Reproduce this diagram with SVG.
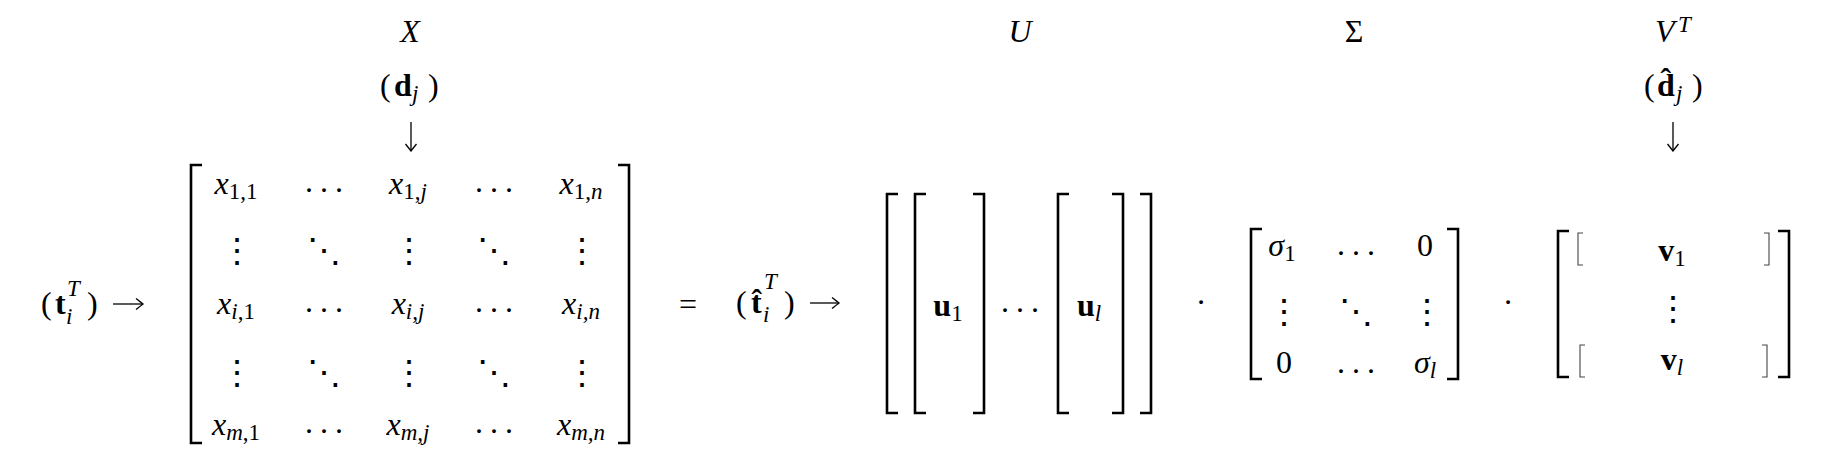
<svg xmlns="http://www.w3.org/2000/svg" width="1838" height="464" viewBox="0 0 1838 464">
<defs>
<style>
text{font-family:"Liberation Serif","Times New Roman",serif;font-size:32px;fill:#000}
.i{font-style:italic}
.b{font-weight:bold}
.s{font-size:23px}
.c{text-anchor:middle}
.h{letter-spacing:7px}
.v{font-family:"DejaVu Serif",serif;font-size:34px;text-anchor:middle;dominant-baseline:central}
.br{fill:none;stroke:#000;stroke-width:2.6;stroke-linejoin:miter;stroke-linecap:butt}
.sb{fill:none;stroke:#444;stroke-width:1.1}
.ar{fill:none;stroke:#000;stroke-width:1.3}
</style>
<marker id="ah" viewBox="-9 -7 10 14" refX="0" refY="0" markerWidth="10" markerHeight="14" markerUnits="userSpaceOnUse" orient="auto" overflow="visible">
<path d="M-7,-5.5 Q-2,-1.5 0,0 Q-2,1.5 -7,5.5" fill="none" stroke="#000" stroke-width="1.3"/>
</marker>
</defs>
<rect width="1838" height="464" fill="#fff"/>

<g id="row-label-t">
<text y="314"><tspan x="41">(</tspan><tspan x="55" class="b">t</tspan><tspan x="67" y="296" class="s i">T</tspan><tspan x="66" y="324" class="s i">i</tspan><tspan x="87" y="314">)</tspan></text>
</g>

<g id="col-label-d">
<text y="96"><tspan x="380">(</tspan><tspan x="394" class="b">d</tspan><tspan x="412" y="101" class="s i">j</tspan><tspan x="428" y="96">)</tspan></text>
</g>

<g id="matrix-X">
<text class="i c" x="410" y="42">X</text>
<path class="br" d="M202,165 H191 V443 H202"/>
<path class="br" d="M618,165 H629 V443 H618"/>
<text class="c" x="236" y="194"><tspan class="i">x</tspan><tspan class="s" dy="5">1,1</tspan></text>
<text class="c" x="408" y="194"><tspan class="i">x</tspan><tspan class="s" dy="5">1,<tspan class="i">j</tspan></tspan></text>
<text class="c" x="581" y="194"><tspan class="i">x</tspan><tspan class="s" dy="5">1,<tspan class="i">n</tspan></tspan></text>
<text class="c" x="236" y="314"><tspan class="i">x</tspan><tspan class="s" dy="5"><tspan class="i">i</tspan>,1</tspan></text>
<text class="c" x="408" y="314"><tspan class="i">x</tspan><tspan class="s i" dy="5">i,j</tspan></text>
<text class="c" x="581" y="314"><tspan class="i">x</tspan><tspan class="s i" dy="5">i,n</tspan></text>
<text class="c" x="236" y="435"><tspan class="i">x</tspan><tspan class="s" dy="5"><tspan class="i">m</tspan>,1</tspan></text>
<text class="c" x="408" y="435"><tspan class="i">x</tspan><tspan class="s i" dy="5">m,j</tspan></text>
<text class="c" x="581" y="435"><tspan class="i">x</tspan><tspan class="s i" dy="5">m,n</tspan></text>
<text class="h" x="305" y="192">...</text>
<text class="h" x="475" y="192">...</text>
<text class="h" x="305" y="312">...</text>
<text class="h" x="475" y="312">...</text>
<text class="h" x="305" y="433">...</text>
<text class="h" x="475" y="433">...</text>
<text class="v" x="237" y="250">⋮</text>
<text class="v" x="409" y="250">⋮</text>
<text class="v" x="582" y="250">⋮</text>
<text class="v" x="237" y="372">⋮</text>
<text class="v" x="409" y="372">⋮</text>
<text class="v" x="582" y="372">⋮</text>
<text class="v" x="324" y="250">⋱</text>
<text class="v" x="494" y="250">⋱</text>
<text class="v" x="324" y="372">⋱</text>
<text class="v" x="494" y="372">⋱</text>
</g>

<g id="equals">
<text class="c" x="688" y="315">=</text>
</g>

<g id="row-label-that">
<text y="313"><tspan x="736">(</tspan><tspan x="751" class="b">t&#x302;</tspan><tspan x="764" y="289" class="s i">T</tspan><tspan x="763" y="322" class="s i">i</tspan><tspan x="784" y="313">)</tspan></text>
</g>

<g id="matrix-U">
<text class="i c" x="1020" y="42">U</text>
<path class="br" d="M898,194 H887 V413 H898"/>
<path class="br" d="M926,194 H915 V413 H926"/>
<path class="br" d="M973,194 H984 V413 H973"/>
<path class="br" d="M1069,194 H1058 V413 H1069"/>
<path class="br" d="M1112,194 H1123 V413 H1112"/>
<path class="br" d="M1140,194 H1151 V413 H1140"/>
<text class="c" x="948" y="316"><tspan class="b">u</tspan><tspan class="s" dy="5">1</tspan></text>
<text class="c" x="1089" y="316"><tspan class="b">u</tspan><tspan class="s i" dy="5">l</tspan></text>
<text class="h" x="1001" y="312">...</text>
</g>

<g id="op-dot-1">
<text class="c" x="1201" y="313">·</text>
</g>

<g id="matrix-Sigma">
<text class="c" x="1354" y="42">Σ</text>
<path class="br" d="M1262,229 H1251 V379 H1262"/>
<path class="br" d="M1447,229 H1458 V379 H1447"/>
<text class="c" x="1282" y="256"><tspan class="i">σ</tspan><tspan class="s" dy="5">1</tspan></text>
<text class="c" x="1425" y="256">0</text>
<text class="c" x="1284" y="373">0</text>
<text class="c" x="1425" y="373"><tspan class="i">σ</tspan><tspan class="s i" dy="5">l</tspan></text>
<text class="h" x="1337" y="255">...</text>
<text class="h" x="1337" y="373">...</text>
<text class="v" x="1284" y="311">⋮</text>
<text class="v" x="1427" y="311">⋮</text>
<text class="v" x="1356" y="311">⋱</text>
</g>

<g id="op-dot-2">
<text class="c" x="1508" y="313">·</text>
</g>

<g id="matrix-VT">
<text x="1655" y="42"><tspan class="i">V</tspan><tspan class="s i" x="1678" y="32">T</tspan></text>
<path class="br" d="M1569,231 H1558 V377 H1569"/>
<path class="br" d="M1778,231 H1789 V377 H1778"/>
<path class="sb" d="M1583,233 H1578 V265 H1583"/>
<path class="sb" d="M1764,233 H1769 V265 H1764"/>
<path class="sb" d="M1585,345 H1580 V377 H1585"/>
<path class="sb" d="M1762,345 H1767 V377 H1762"/>
<text class="c" x="1672" y="261"><tspan class="b">v</tspan><tspan class="s" dy="5">1</tspan></text>
<text class="c" x="1672" y="370"><tspan class="b">v</tspan><tspan class="s i" dy="5">l</tspan></text>
<text class="v" x="1673" y="308">⋮</text>
</g>

<g id="col-label-dhat">
<text y="96"><tspan x="1644">(</tspan><tspan x="1657" class="b">d&#x302;</tspan><tspan x="1676" y="101" class="s i">j</tspan><tspan x="1692" y="96">)</tspan></text>
</g>

<g id="connectors">
<path class="ar" d="M113,304 H143" marker-end="url(#ah)"/>
<path class="ar" d="M411,122 V151" marker-end="url(#ah)"/>
<path class="ar" d="M810,303 H839" marker-end="url(#ah)"/>
<path class="ar" d="M1673,122 V151" marker-end="url(#ah)"/>
</g>
</svg>
